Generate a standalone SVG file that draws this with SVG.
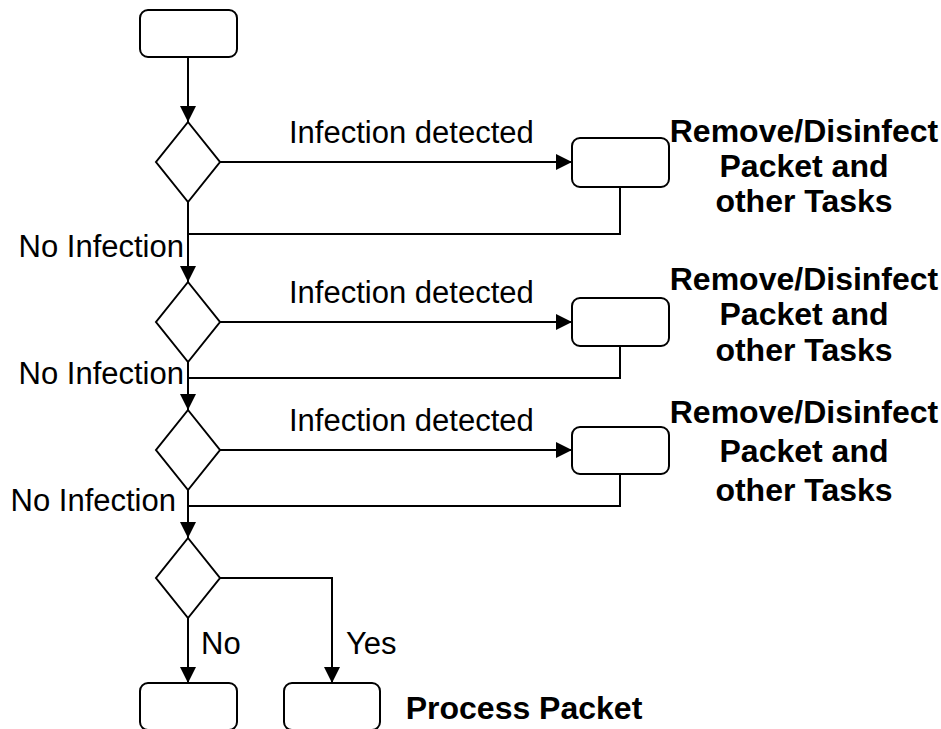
<svg xmlns="http://www.w3.org/2000/svg" width="941" height="729" viewBox="0 0 941 729">
  <defs>
    <marker id="arrow" markerWidth="17" markerHeight="17" refX="16" refY="8" orient="auto" markerUnits="userSpaceOnUse">
      <path d="M0,0 L16,8 L0,16 Z" fill="#000"/>
    </marker>
    <style>
      .box { fill: #fff; stroke: #000; stroke-width: 2; }
      .dec { fill: #fff; stroke: #000; stroke-width: 2; }
      .edge { fill: none; stroke: #000; stroke-width: 2; }
      .arr { marker-end: url(#arrow); }
      .lbl { font-family: "Liberation Sans", Arial, sans-serif; font-size: 31px; fill: #000; }
      .note { font-family: "Liberation Sans", Arial, sans-serif; font-size: 32px; font-weight: bold; fill: #000; text-anchor: middle; }
    </style>
  </defs>
  <rect width="941" height="729" fill="#fff"/>

  <!-- connectors -->
  <g id="connectors">
    <path class="edge arr" d="M188,57 V122"/>
    <path class="edge arr" d="M220,162 H572"/>
    <path class="edge" d="M620,187 V234 H188"/>
    <path class="edge arr" d="M188,202 V282"/>
    <path class="edge arr" d="M220,322 H572"/>
    <path class="edge" d="M620,346 V378 H188"/>
    <path class="edge arr" d="M188,362 V410"/>
    <path class="edge arr" d="M220,450 H572"/>
    <path class="edge" d="M620,474 V506 H188"/>
    <path class="edge arr" d="M188,490 V538"/>
    <path class="edge arr" d="M188,618 V683"/>
    <path class="edge arr" d="M220,578 H332 V683"/>
    <text class="lbl" x="289" y="143">Infection detected</text>
    <text class="lbl" x="289" y="303">Infection detected</text>
    <text class="lbl" x="289" y="431">Infection detected</text>
    <text class="lbl" x="184" y="257" text-anchor="end">No Infection</text>
    <text class="lbl" x="184" y="384" text-anchor="end">No Infection</text>
    <text class="lbl" x="176" y="511" text-anchor="end">No Infection</text>
    <text class="lbl" x="201" y="654">No</text>
    <text class="lbl" x="346" y="654">Yes</text>
  </g>

  <!-- start -->
  <g id="start"><rect class="box" x="140" y="10" width="97" height="47" rx="8"/></g>

  <!-- checks -->
  <g id="check1"><polygon class="dec" points="188,122 220,162 188,202 156,162"/></g>
  <g id="check2"><polygon class="dec" points="188,282 220,322 188,362 156,322"/></g>
  <g id="check3"><polygon class="dec" points="188,410 220,450 188,490 156,450"/></g>
  <g id="check4"><polygon class="dec" points="188,538 220,578 188,618 156,578"/></g>

  <!-- disinfect tasks -->
  <g id="task1">
    <rect class="box" x="572" y="138" width="97" height="49" rx="8"/>
    <text class="note" x="804" y="142">Remove/Disinfect</text>
    <text class="note" x="804" y="177">Packet and</text>
    <text class="note" x="804" y="212">other Tasks</text>
  </g>
  <g id="task2">
    <rect class="box" x="572" y="298" width="97" height="48" rx="8"/>
    <text class="note" x="804" y="290">Remove/Disinfect</text>
    <text class="note" x="804" y="325">Packet and</text>
    <text class="note" x="804" y="361">other Tasks</text>
  </g>
  <g id="task3">
    <rect class="box" x="572" y="427" width="97" height="47" rx="8"/>
    <text class="note" x="804" y="423">Remove/Disinfect</text>
    <text class="note" x="804" y="462">Packet and</text>
    <text class="note" x="804" y="501">other Tasks</text>
  </g>

  <!-- outcomes -->
  <g id="drop"><rect class="box" x="140" y="683" width="97" height="47" rx="8"/></g>
  <g id="process">
    <rect class="box" x="284" y="683" width="96" height="47" rx="8"/>
    <text class="note" x="524" y="719">Process Packet</text>
  </g>
</svg>
